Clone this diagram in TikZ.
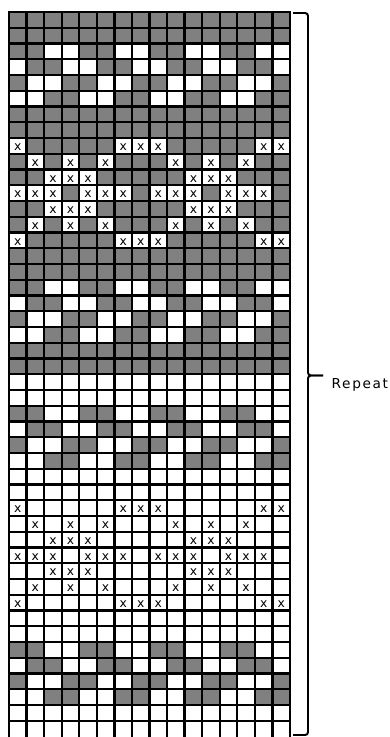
\documentclass[tikz,border=0pt]{standalone}
\usepackage{fontspec}
\newfontfamily\chartfont{DejaVu Sans}
\newfontfamily\labelfont[LetterSpace=12]{DejaVu Sans}
\definecolor{knitgray}{HTML}{808080}
\definecolor{knitline}{HTML}{000000}
\newcommand{\cellw}{17.5625}
\newcommand{\cellh}{15.75}
\tikzset{
  graycell/.style={fill=knitgray},
  whitecell/.style={fill=white},
  gridline/.style={draw=knitline, line width=3.3pt, line cap=rect},
  xmark/.style={font=\chartfont\fontsize{17.5}{19}\selectfont, inner sep=0pt, text=black},
  repbrace/.style={draw=knitline, line width=2.8pt, rounded corners=4pt},
  replabel/.style={font=\labelfont\fontsize{19.5}{22}\selectfont, inner sep=0pt, anchor=base west}}

\begin{document}
\begin{tikzpicture}[x=0.5mm, y=-0.5mm]
  \useasboundingbox (0,0) rectangle (390,737);
  % background: dark top half, light bottom half
  \path[whitecell] (9,12) rectangle (290,737);
  \path[graycell] (9,12) rectangle (290,{12+23*\cellh});
  % zigzag bands
  \foreach \top in {3,18,26,41} {
    \foreach \k/\cols in {0/{1,2,5,6,9,10,13,14}, 1/{2,3,6,7,10,11,14,15},
                          2/{1,4,5,8,9,12,13,16}, 3/{3,4,7,8,11,12,15,16}} {
      \pgfmathtruncatemacro{\r}{\top+\k}
      \path[whitecell] (9,{12+(\r-1)*\cellh}) rectangle (290,{12+\r*\cellh});
      \foreach \c in \cols
        \path[graycell] ({9+(\c-1)*\cellw},{12+(\r-1)*\cellh}) rectangle ++(\cellw,\cellh);
    }
  }
  % motif of x stitches
  \foreach \top in {9,32} {
    \foreach \k/\cols in {0/{1,7,8,9,15,16}, 1/{2,4,6,10,12,14}, 2/{3,4,5,11,12,13},
                          3/{1,2,3,5,6,7,9,10,11,13,14,15}, 4/{3,4,5,11,12,13},
                          5/{2,4,6,10,12,14}, 6/{1,7,8,9,15,16}} {
      \pgfmathtruncatemacro{\r}{\top+\k}
      \foreach \c in \cols {
        \path[whitecell] ({9+(\c-1)*\cellw},{12+(\r-1)*\cellh}) rectangle ++(\cellw,\cellh);
        \node[xmark] (x-\r-\c) at ({9+(\c-0.5)*\cellw},{12+(\r-0.5)*\cellh+1.5}) {x};
      }
    }
  }
  % grid
  \foreach \c in {0,...,16}
    \draw[gridline] ({9+\c*\cellw},12) -- ({9+\c*\cellw},740);
  \foreach \r in {0,...,45}
    \draw[gridline] (9,{12+\r*\cellh}) -- (290,{12+\r*\cellh});
  % repeat brace
  \draw[repbrace] (293,13) -- (308,13) -- (308,375.5) -- (323,375.5);
  \draw[repbrace] (293,735) -- (308,735) -- (308,375.5) -- (323,375.5);
  \node[replabel] (repeat) at (331.5,388) {Repeat};
\end{tikzpicture}
\end{document}
